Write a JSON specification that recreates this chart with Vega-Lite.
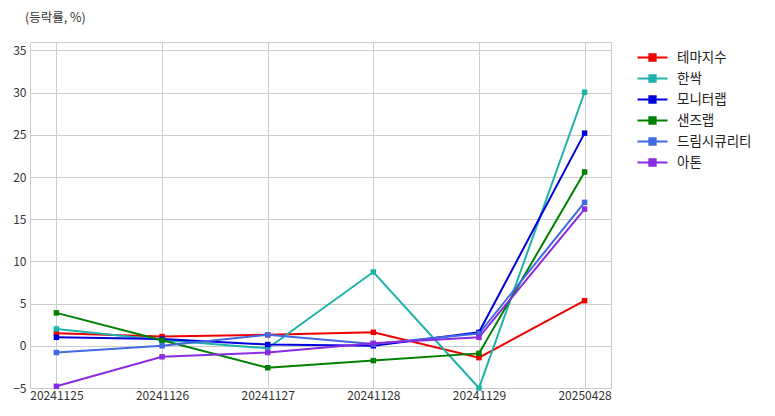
{
  "$schema": "https://vega.github.io/schema/vega-lite/v6.json",
  "autosize": {"type": "none"},
  "width": 581,
  "height": 346,
  "padding": {"left": 30, "top": 42, "right": 164, "bottom": 28},
  "background": "#ffffff",
  "title": {
    "text": "(등락률, %)",
    "anchor": "start",
    "frame": "group",
    "orient": "top",
    "dx": -5,
    "offset": 18,
    "fontSize": 12.5,
    "fontWeight": "normal",
    "font": "Noto Sans CJK KR",
    "color": "#333333"
  },
  "config": {
    "font": "Noto Sans CJK KR",
    "view": {"stroke": "#cccccc", "strokeWidth": 1},
    "axis": {
      "gridColor": "#cccccc",
      "gridWidth": 1,
      "gridOpacity": 1,
      "domain": false,
      "ticks": false,
      "labelFont": "Noto Sans CJK KR",
      "labelFontSize": 12,
      "labelColor": "#333333",
      "title": null
    }
  },
  "data": {
    "values": [
      {"date": "20241125", "name": "테마지수", "v": 1.5},
      {"date": "20241126", "name": "테마지수", "v": 1.1},
      {"date": "20241127", "name": "테마지수", "v": 1.3},
      {"date": "20241128", "name": "테마지수", "v": 1.6},
      {"date": "20241129", "name": "테마지수", "v": -1.4},
      {"date": "20250428", "name": "테마지수", "v": 5.35},
      {"date": "20241125", "name": "한싹", "v": 2.0},
      {"date": "20241126", "name": "한싹", "v": 0.7},
      {"date": "20241127", "name": "한싹", "v": -0.3},
      {"date": "20241128", "name": "한싹", "v": 8.75},
      {"date": "20241129", "name": "한싹", "v": -5.0},
      {"date": "20250428", "name": "한싹", "v": 30.05},
      {"date": "20241125", "name": "모니터랩", "v": 1.0},
      {"date": "20241126", "name": "모니터랩", "v": 0.8},
      {"date": "20241127", "name": "모니터랩", "v": 0.15},
      {"date": "20241128", "name": "모니터랩", "v": 0.0},
      {"date": "20241129", "name": "모니터랩", "v": 1.6},
      {"date": "20250428", "name": "모니터랩", "v": 25.2},
      {"date": "20241125", "name": "샌즈랩", "v": 3.9},
      {"date": "20241126", "name": "샌즈랩", "v": 0.65},
      {"date": "20241127", "name": "샌즈랩", "v": -2.6},
      {"date": "20241128", "name": "샌즈랩", "v": -1.75},
      {"date": "20241129", "name": "샌즈랩", "v": -0.9},
      {"date": "20250428", "name": "샌즈랩", "v": 20.6},
      {"date": "20241125", "name": "드림시큐리티", "v": -0.8},
      {"date": "20241126", "name": "드림시큐리티", "v": 0.0},
      {"date": "20241127", "name": "드림시큐리티", "v": 1.3},
      {"date": "20241128", "name": "드림시큐리티", "v": 0.2},
      {"date": "20241129", "name": "드림시큐리티", "v": 1.45},
      {"date": "20250428", "name": "드림시큐리티", "v": 17.0},
      {"date": "20241125", "name": "아톤", "v": -4.8},
      {"date": "20241126", "name": "아톤", "v": -1.3},
      {"date": "20241127", "name": "아톤", "v": -0.8},
      {"date": "20241128", "name": "아톤", "v": 0.3},
      {"date": "20241129", "name": "아톤", "v": 1.0},
      {"date": "20250428", "name": "아톤", "v": 16.2}
    ]
  },
  "encoding": {
    "x": {
      "field": "date",
      "type": "ordinal",
      "scale": {"type": "point", "padding": 0.25},
      "axis": {"labelAngle": 0, "labelPadding": 2, "grid": true}
    },
    "y": {
      "field": "v",
      "type": "quantitative",
      "scale": {"domain": [-5, 36], "nice": false, "zero": false},
      "axis": {"values": [-5, 0, 5, 10, 15, 20, 25, 30, 35], "labelPadding": 4, "grid": true}
    },
    "color": {
      "field": "name",
      "type": "nominal",
      "scale": {
        "domain": ["테마지수", "한싹", "모니터랩", "샌즈랩", "드림시큐리티", "아톤"],
        "range": ["#ee0000", "#20b2aa", "#0000dd", "#008000", "#4169e1", "#8a2be2"]
      },
      "legend": {
        "title": null,
        "orient": "none",
        "legendX": 614,
        "legendY": 7,
        "symbolType": "M-2,0H2M-0.42,-0.42H0.42V0.42H-0.42Z",
        "symbolSize": 225,
        "symbolStrokeWidth": 2,
        "labelFontSize": 13.5,
        "labelFont": "Noto Sans CJK KR",
        "labelColor": "#222222",
        "rowPadding": 5,
        "labelOffset": 16
      }
    },
    "order": {"field": "date"}
  },
  "layer": [
    {"mark": {"type": "line", "strokeWidth": 2}},
    {"mark": {"type": "square", "size": 30, "filled": true, "opacity": 1}}
  ]
}
